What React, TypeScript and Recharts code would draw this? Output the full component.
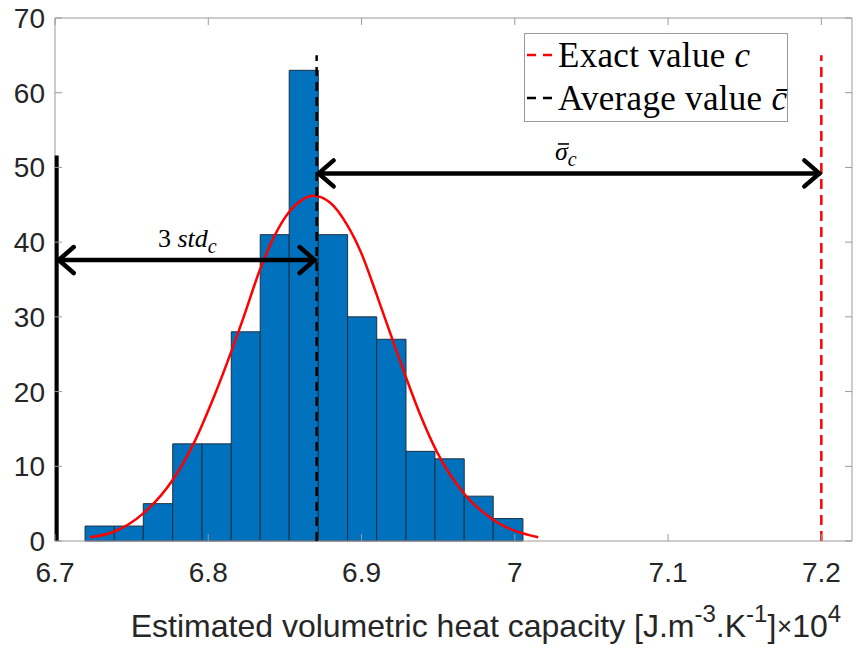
import React from 'react';
import {
  ComposedChart,
  Line,
  XAxis,
  YAxis,
  ReferenceArea,
  ReferenceLine,
  ReferenceDot,
  Legend,
} from 'recharts';

// histogram of the estimates (x 1e4 J.m-3.K-1)
const binEdges = [
  6.7196, 6.7387, 6.7576, 6.7768, 6.7959, 6.815, 6.8339, 6.8528,
  6.8718, 6.8909, 6.9099, 6.929, 6.9479, 6.967, 6.9859, 7.0053,
];
const binCounts = [2, 2, 5, 13, 13, 28, 41, 63, 41, 30, 27, 12, 11, 6, 3];

// fitted normal curve
const fitX = [
  6.7228, 6.738, 6.7576, 6.7772, 6.7913, 6.8033, 6.8228, 6.8337, 6.8424, 6.8522,
  6.8615, 6.8685, 6.8794, 6.8903, 6.9001, 6.9098, 6.9196, 6.9283, 6.9381, 6.949,
  6.9675, 6.9859, 7.0153,
];
const fitY = [
  0.5, 1.2, 3.7, 8.3, 13.4, 19.1, 29.8, 36.3, 40.5, 43.9,
  45.7, 46.2, 45.3, 42.4, 38.4, 33.0, 27.3, 22.3, 17.0, 12.0,
  6.2, 2.85, 0.5,
];

const xTicks = [6.7, 6.8, 6.9, 7, 7.1, 7.2];
const yTicks = [0, 10, 20, 30, 40, 50, 60, 70];

const exactValue = 7.2;
const averageValue = 6.8707;
const stdLeft = 6.7011;
const markerTop = 65;
const stdBarTop = 51.6;
const stdArrowY = 37.6;
const sigmaArrowY = 49.2;

const legendItems = [
  { text: 'Exact value ', sym: 'c', color: '#ff0000' },
  { text: 'Average value ', sym: 'c\u0304', color: '#000000' },
];

const fitData = fitX.map((x, i) => ({ x, y: fitY[i] }));

// layout
const W = 857;
const H = 649;
const PLOT_LEFT = 55;
const PLOT_RIGHT = 852;
const PLOT_TOP = 18;
const PLOT_BOTTOM = 541;
const AXIS = '#9a9a9a';
const TEXT = '#262626';
const SANS = '"Liberation Sans", Arial, sans-serif';
const SERIF = '"Liberation Serif", "Times New Roman", serif';

function XTick(props: any) {
  const { x, payload } = props;
  return (
    <g>
      <line x1={x} x2={x} y1={PLOT_BOTTOM} y2={PLOT_BOTTOM - 7} stroke={AXIS} />
      <line x1={x} x2={x} y1={PLOT_TOP} y2={PLOT_TOP + 7} stroke={AXIS} />
      <text x={x} y={PLOT_BOTTOM + 41} textAnchor="middle" fill={TEXT} fontSize={28} fontFamily={SANS}>
        {String(payload.value)}
      </text>
    </g>
  );
}

function YTick(props: any) {
  const { y, payload } = props;
  return (
    <g>
      <line x1={PLOT_LEFT} x2={PLOT_LEFT + 7} y1={y} y2={y} stroke={AXIS} />
      <line x1={PLOT_RIGHT} x2={PLOT_RIGHT - 7} y1={y} y2={y} stroke={AXIS} />
      <text x={PLOT_LEFT - 10} y={y + 10} textAnchor="end" fill={TEXT} fontSize={28} fontFamily={SANS}>
        {payload.value}
      </text>
    </g>
  );
}

function XLabel() {
  const cx = (PLOT_LEFT + PLOT_RIGHT) / 2;
  const base = 637;
  return (
    <g fill={TEXT} fontFamily={SANS}>
      <text x={cx} y={base} textAnchor="middle" fontSize={32}>
        Estimated volumetric heat capacity [J.m
        <tspan dy={-15} fontSize={24}>-3</tspan>
        <tspan dy={15}>.K</tspan>
        <tspan dy={-15} fontSize={24}>-1</tspan>
        <tspan dy={15}>]</tspan>
      </text>
      <text x={777} y={base} fontSize={32}>
        <tspan fontSize={26} dy={-2}>{'\u00d7'}</tspan>
        <tspan dy={2}>10</tspan>
        <tspan dy={-15} fontSize={24}>4</tspan>
      </text>
    </g>
  );
}

function Arrow(props: any) {
  const { x1, y1, x2, y2 } = props;
  const h = 17;
  const w = 13;
  return (
    <g stroke="#000" strokeWidth={4.5} fill="none" strokeLinecap="round">
      <line x1={x1 + 2} y1={y1} x2={x2 - 2} y2={y2} />
      <polyline points={`${x1 + h},${y1 - w} ${x1 + 2},${y1} ${x1 + h},${y1 + w}`} />
      <polyline points={`${x2 - h},${y2 - w} ${x2 - 2},${y2} ${x2 - h},${y2 + w}`} />
    </g>
  );
}

function StdLabel(props: any) {
  const { x, y } = props.viewBox;
  return (
    <text x={x} y={y} fontFamily={SERIF} fontSize={26} fill="#000">
      3 <tspan fontStyle="italic">std</tspan>
      <tspan fontStyle="italic" fontSize={20} dy={6}>c</tspan>
    </text>
  );
}

function SigmaLabel(props: any) {
  const { x, y } = props.viewBox;
  return (
    <g>
      <line x1={x + 3} x2={x + 14} y1={y - 16} y2={y - 16} stroke="#000" strokeWidth={1.6} />
      <text x={x} y={y} fontFamily={SERIF} fontSize={26} fill="#000">
        <tspan fontStyle="italic">{'\u03c3'}</tspan>
        <tspan fontStyle="italic" fontSize={20} dy={6}>c</tspan>
      </text>
    </g>
  );
}

function LegendBox() {
  return (
    <div
      style={{
        width: 264,
        height: 89,
        boxSizing: 'border-box',
        border: `1px solid ${AXIS}`,
        background: '#fff',
        fontFamily: SERIF,
        fontSize: 35,
        lineHeight: '43px',
        color: '#000',
        whiteSpace: 'nowrap',
      }}
    >
      {legendItems.map((it) => (
        <div key={it.text} style={{ display: 'flex', alignItems: 'flex-start', height: 43 }}>
          <svg width={33} height={43} style={{ flex: 'none' }}>
            <line x1={2} x2={30} y1={21} y2={21} stroke={it.color} strokeWidth={2.5} strokeDasharray="9 7" />
          </svg>
          <span style={{ letterSpacing: 0.3 }}>
            {it.text}
            <i>{it.sym}</i>
          </span>
        </div>
      ))}
    </div>
  );
}

export default function App() {
  return (
    <div style={{ position: 'absolute', left: 0, top: 0, width: W, height: H, background: '#fff' }}>
      <ComposedChart
        width={W}
        height={H}
        data={fitData}
        margin={{ top: PLOT_TOP, right: W - PLOT_RIGHT, left: 0, bottom: 0 }}
      >
        <XAxis
          dataKey="x"
          type="number"
          domain={[6.7, 7.22]}
          ticks={xTicks}
          interval={0}
          allowDataOverflow
          height={H - PLOT_BOTTOM}
          tickLine={false}
          axisLine={false}
          tick={<XTick />}
          label={<XLabel />}
        />
        <YAxis
          type="number"
          domain={[0, 70]}
          ticks={yTicks}
          interval={0}
          allowDataOverflow
          width={PLOT_LEFT}
          tickLine={false}
          axisLine={false}
          tick={<YTick />}
        />
        {binCounts.map((n, i) => (
          <ReferenceArea
            key={`bin-${i}`}
            x1={binEdges[i]}
            x2={binEdges[i + 1]}
            y1={0}
            y2={n}
            fill="#0072BD"
            fillOpacity={1}
            stroke="#1e2f40"
            strokeWidth={1}
          />
        ))}
        <ReferenceArea x1={6.7} x2={7.22} y1={0} y2={70} fill="none" stroke={AXIS} strokeWidth={1} />
        <Line
          type="monotone"
          dataKey="y"
          stroke="#ff0000"
          strokeWidth={2.5}
          dot={false}
          isAnimationActive={false}
        />
        <ReferenceLine
          segment={[{ x: averageValue, y: 0 }, { x: averageValue, y: markerTop }]}
          stroke="#000"
          strokeWidth={2.5}
          strokeDasharray="9 6"
        />
        <ReferenceLine
          segment={[{ x: exactValue, y: 0 }, { x: exactValue, y: markerTop }]}
          stroke="#ff0000"
          strokeWidth={2.5}
          strokeDasharray="10 6"
        />
        <ReferenceLine
          segment={[{ x: stdLeft, y: 0 }, { x: stdLeft, y: stdBarTop }]}
          stroke="#000"
          strokeWidth={4}
        />
        <ReferenceLine
          segment={[{ x: stdLeft, y: stdArrowY }, { x: averageValue, y: stdArrowY }]}
          shape={(p: any) => <Arrow {...p} />}
        />
        <ReferenceLine
          segment={[{ x: averageValue, y: sigmaArrowY }, { x: exactValue, y: sigmaArrowY }]}
          shape={(p: any) => <Arrow {...p} />}
        />
        <ReferenceDot x={6.7672} y={39.4} r={0} fill="none" stroke="none" label={<StdLabel />} />
        <ReferenceDot x={7.0262} y={51.0} r={0} fill="none" stroke="none" label={<SigmaLabel />} />
        <Legend
          layout="vertical"
          align="center"
          verticalAlign="middle"
          wrapperStyle={{ position: 'absolute', left: 524, top: 33, width: 'auto', height: 'auto' }}
          content={() => <LegendBox />}
        />
      </ComposedChart>
    </div>
  );
}
